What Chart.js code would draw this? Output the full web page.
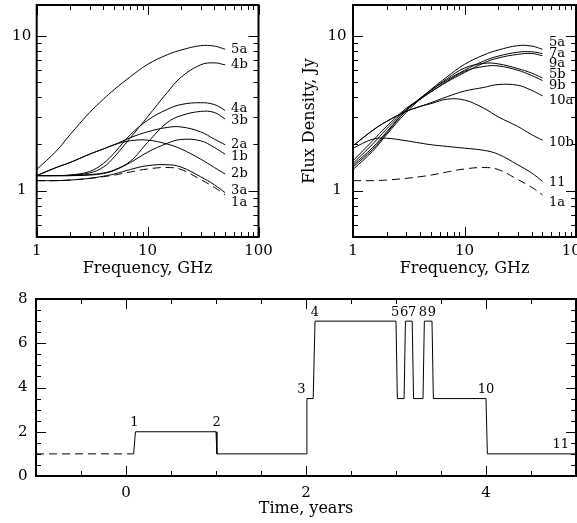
<!DOCTYPE html>
<html>
<head>
<meta charset="utf-8">
<script src="https://cdn.jsdelivr.net/npm/chart.js@4.4.1/dist/chart.umd.min.js"></script>
<style>
html, body { margin:0; padding:0; background:#fff; overflow:hidden; width:577px; height:523px; }
canvas { position:absolute; }
#specLeft { left:0; top:0; }
#specRight { left:290px; top:0; }
#timeline { left:0; top:290px; }
</style>
</head>
<body>
<canvas id="specLeft" width="290" height="290"></canvas>
<canvas id="specRight" width="320" height="290"></canvas>
<canvas id="timeline" width="577" height="233"></canvas>
<script>
// frequency grid, GHz
const freqs = [1, 1.5, 2, 3, 4, 5, 7, 10, 15, 20, 30, 40, 50];

// flux density, Jy (left panel)
const s5a = [1.37, 1.8, 2.3, 3.2, 3.9, 4.5, 5.45, 6.55, 7.55, 8.1, 8.65, 8.6, 8.2];
const s4b = [1.25, 1.25, 1.26, 1.3, 1.42, 1.65, 2.2, 3.0, 4.3, 5.4, 6.5, 6.7, 6.5];
const s4a = [1.25, 1.25, 1.26, 1.33, 1.5, 1.75, 2.3, 2.85, 3.35, 3.6, 3.7, 3.6, 3.3];
const s3b = [1.25, 1.25, 1.25, 1.27, 1.3, 1.36, 1.55, 2.05, 2.75, 3.05, 3.25, 3.2, 2.9];
const s2a = [1.25, 1.41, 1.52, 1.72, 1.86, 1.98, 2.2, 2.4, 2.56, 2.58, 2.4, 2.15, 1.98];
const s1b = [1.25, 1.25, 1.25, 1.26, 1.29, 1.35, 1.52, 1.77, 2.02, 2.14, 2.1, 1.9, 1.72];
const s2b = [1.25, 1.41, 1.52, 1.72, 1.86, 1.98, 2.1, 2.12, 2.0, 1.86, 1.6, 1.41, 1.28];
const s3a = [1.16, 1.16, 1.17, 1.2, 1.24, 1.28, 1.37, 1.45, 1.47, 1.42, 1.23, 1.09, 0.97];
const s1a = [1.16, 1.16, 1.17, 1.2, 1.23, 1.26, 1.32, 1.38, 1.41, 1.37, 1.18, 1.05, 0.94];

// right panel
const s7a = [1.42, 1.85, 2.35, 3.3, 3.95, 4.45, 5.2, 6.0, 6.9, 7.4, 7.85, 7.9, 7.7];
const s9a = [1.46, 1.9, 2.4, 3.3, 3.9, 4.35, 5.05, 5.8, 6.7, 7.2, 7.6, 7.7, 7.45];
const s5b = [1.5, 2.0, 2.5, 3.35, 3.95, 4.45, 5.3, 6.2, 6.65, 6.6, 6.15, 5.75, 5.35];
const s9b = [1.56, 2.1, 2.6, 3.4, 3.9, 4.35, 5.1, 5.9, 6.35, 6.4, 6.0, 5.55, 5.15];
const s10a = [1.95, 2.45, 2.8, 3.25, 3.5, 3.7, 4.05, 4.4, 4.65, 4.85, 4.8, 4.45, 4.1];
const s10b = [1.95, 2.45, 2.8, 3.25, 3.5, 3.65, 3.9, 3.85, 3.4, 3.0, 2.6, 2.3, 2.12];
const s11 = [1.88, 2.15, 2.18, 2.1, 2.03, 1.98, 1.93, 1.88, 1.82, 1.72, 1.47, 1.3, 1.15];

const freqTicks = [1,2,3,4,5,6,7,8,9,10,20,30,40,50,60,70,80,90,100];
const freqLabels = [1, 10, 100];
const fluxTicks = [0.5,0.6,0.7,0.8,0.9,1,2,3,4,5,6,7,8,9,10];
const fluxLabels = [1, 10];

// bottom panel: source state vs time
const preTime = [-1, 0.085];
const preLevel = [1, 1];
const stepTime = [0.085, 0.105, 1.0, 1.01, 2.0, 2.01, 2.08, 2.1, 3.0, 3.015, 3.09, 3.105, 3.18, 3.195, 3.3, 3.315, 3.4, 3.415, 4.0, 4.015, 5.0];
const stepLevel = [1, 2, 2, 1, 1, 3.5, 3.5, 7, 7, 3.5, 3.5, 7, 7, 3.5, 3.5, 7, 7, 3.5, 3.5, 1, 1];
const eventNames = ['1','2','3','4','5','6','7','8','9','10','11'];
const eventTime = [0.093, 1.006, 1.95, 2.1, 2.99, 3.09, 3.18, 3.3, 3.4, 4.0, 4.83];
const eventLevel = [2, 2, 3.5, 7, 7, 7, 7, 7, 7, 3.5, 1];
const timeTicks = [-1,-0.5,0,0.5,1,1.5,2,2.5,3,3.5,4,4.5,5];
const timeLabels = [0, 2, 4];
const levelTicks = [0,0.5,1,1.5,2,2.5,3,3.5,4,4.5,5,5.5,6,6.5,7,7.5,8];
const levelLabels = [0, 2, 4, 6, 8];

const FONT = '"DejaVu Serif", "Liberation Serif", serif';
Chart.defaults.font.family = FONT;
Chart.defaults.color = '#000';

const pts = (xs, ys) => xs.map((x, i) => ({x, y: ys[i]}));

function curve(label, vals, dashed){
  return {
    label, data: pts(freqs, vals),
    borderColor:'#000', borderWidth:1, pointRadius:0,
    tension:0.4, borderDash: dashed ? [8,5] : []
  };
}

// fixed axis box size; the chart area is set by layout padding alone
function fixBox(size){
  return s => {
    if (s.isHorizontal()) s.height = size; else s.width = size;
    s.paddingTop = s.paddingBottom = s.paddingLeft = s.paddingRight = 0;
  };
}

// inner ticks on all four sides and a heavy box, PGPLOT style
function makeFrame(t){
  return {
    id:'frame',
    afterDraw(chart){
      const {ctx, chartArea:a, scales:{x, y}} = chart;
      ctx.save();
      ctx.strokeStyle = '#000';
      ctx.lineWidth = 1;
      ctx.beginPath();
      const tx = (v, len) => {
        const p = Math.round(x.getPixelForValue(v)) + 0.5;
        ctx.moveTo(p, a.bottom); ctx.lineTo(p, a.bottom - len);
        ctx.moveTo(p, a.top); ctx.lineTo(p, a.top + len);
      };
      const ty = (v, len) => {
        const p = Math.round(y.getPixelForValue(v)) + 0.5;
        ctx.moveTo(a.left, p); ctx.lineTo(a.left + len, p);
        ctx.moveTo(a.right, p); ctx.lineTo(a.right - len, p);
      };
      t.x.forEach(v => tx(v, t.xMajor.includes(v) ? 10 : 5));
      t.y.forEach(v => ty(v, t.yMajor.includes(v) ? 10 : 5));
      ctx.stroke();
      ctx.lineWidth = 2;
      ctx.strokeRect(a.left, a.top, a.right - a.left, a.bottom - a.top);
      ctx.restore();
    }
  };
}

function makeEndLabels(dx, nudge){
  return {
    id:'endLabels',
    afterDatasetsDraw(chart){
      const {ctx} = chart;
      ctx.save();
      ctx.font = '13px ' + FONT;
      ctx.fillStyle = '#000';
      ctx.textBaseline = 'middle';
      chart.data.datasets.forEach((ds, i) => {
        const el = chart.getDatasetMeta(i).data;
        const last = el[el.length - 1];
        ctx.fillText(ds.label, last.x + dx, last.y + (nudge[ds.label] || 0));
      });
      ctx.restore();
    }
  };
}

function freqAxis(){
  return {
    type:'logarithmic', min:1, max:100,
    grid:{display:false, drawTicks:false}, border:{display:false},
    afterBuildTicks: s => { s.ticks = freqTicks.map(v => ({value:v})); },
    ticks:{autoSkip:false, maxRotation:0, padding:5, font:{size:15},
      callback: v => freqLabels.includes(v) ? String(v) : ''},
    title:{display:true, text:'Frequency, GHz', font:{size:16}, padding:{top:0, bottom:11.4}},
    afterFit: fixBox(53)
  };
}

function fluxAxis(width, pad, title){
  return {
    type:'logarithmic', min:0.5012, max:15.85,
    grid:{display:false, drawTicks:false}, border:{display:false},
    afterBuildTicks: s => { s.ticks = fluxTicks.map(v => ({value:v})); },
    ticks:{autoSkip:false, padding:pad, crossAlign:'center', font:{size:15},
      callback: v => fluxLabels.includes(v) ? String(v) : ''},
    title: title ? {display:true, text:title, font:{size:16}, padding:{top:10.4, bottom:0}} : {display:false},
    afterFit: fixBox(width)
  };
}

const freqFrame = {x:freqTicks, xMajor:freqLabels, y:fluxTicks, yMajor:fluxLabels};

new Chart(document.getElementById('specLeft'), {
  type:'line',
  data:{datasets:[
    curve('5a', s5a), curve('4b', s4b), curve('4a', s4a), curve('3b', s3b),
    curve('2a', s2a), curve('1b', s1b), curve('2b', s2b), curve('3a', s3a),
    curve('1a', s1a, true)
  ]},
  options:{
    responsive:false, animation:false,
    layout:{padding:{top:5, right:31.5, left:0, bottom:0}},
    plugins:{legend:{display:false}, tooltip:{enabled:false}},
    scales:{x:freqAxis(), y:fluxAxis(36.7, 5.5)}
  },
  plugins:[makeFrame(freqFrame),
    makeEndLabels(6, {'4a':-1.5, '3b':2, '1b':2.5, '3a':-2, '1a':8})]
});

new Chart(document.getElementById('specRight'), {
  type:'line',
  data:{datasets:[
    curve('5a', s5a), curve('7a', s7a), curve('9a', s9a), curve('5b', s5b),
    curve('9b', s9b), curve('10a', s10a), curve('10b', s10b), curve('11', s11),
    curve('1a', s1a, true)
  ]},
  options:{
    responsive:false, animation:false,
    layout:{padding:{top:5, right:34, left:0, bottom:0}},
    plugins:{legend:{display:false}, tooltip:{enabled:false}},
    scales:{x:freqAxis(), y:fluxAxis(63, 6.5, 'Flux Density, Jy')}
  },
  plugins:[makeFrame(freqFrame),
    makeEndLabels(6.6, {'5a':-7, '9a':8, '5b':-3, '9b':5, '10a':5, '10b':2.5, '11':1.5, '1a':8})]
});

const eventLabelPlugin = {
  id:'events',
  afterDatasetsDraw(chart){
    const {ctx, scales:{x, y}} = chart;
    ctx.save();
    ctx.font = '13px ' + FONT;
    ctx.fillStyle = '#000';
    ctx.textAlign = 'center';
    ctx.textBaseline = 'middle';
    eventNames.forEach((n, i) => {
      ctx.fillText(n, x.getPixelForValue(eventTime[i]), y.getPixelForValue(eventLevel[i]) - 9);
    });
    ctx.restore();
  }
};

new Chart(document.getElementById('timeline'), {
  type:'line',
  data:{datasets:[
    {data:pts(preTime, preLevel), borderColor:'#000', borderWidth:1, pointRadius:0, borderDash:[8,5]},
    {data:pts(stepTime, stepLevel), borderColor:'#000', borderWidth:1, pointRadius:0, borderJoinStyle:'bevel'}
  ]},
  options:{
    responsive:false, animation:false,
    layout:{padding:{top:9, right:1, left:0, bottom:0}},
    plugins:{legend:{display:false}, tooltip:{enabled:false}},
    scales:{
      x:{
        type:'linear', min:-1, max:5,
        grid:{display:false, drawTicks:false}, border:{display:false},
        afterBuildTicks: s => { s.ticks = timeTicks.map(v => ({value:v})); },
        ticks:{autoSkip:false, maxRotation:0, padding:8, font:{size:15},
          callback: v => timeLabels.includes(v) ? String(v) : ''},
        title:{display:true, text:'Time, years', font:{size:16}, padding:{top:0, bottom:4.4}},
        afterFit: fixBox(47)
      },
      y:{
        type:'linear', min:0, max:8,
        grid:{display:false, drawTicks:false}, border:{display:false},
        afterBuildTicks: s => { s.ticks = levelTicks.map(v => ({value:v})); },
        ticks:{autoSkip:false, padding:8.5, crossAlign:'center', font:{size:15},
          callback: v => levelLabels.includes(v) ? String(v) : ''},
        afterFit: fixBox(36)
      }
    }
  },
  plugins:[makeFrame({x:timeTicks, xMajor:timeLabels, y:levelTicks, yMajor:[2,4,6]}), eventLabelPlugin]
});
</script>
</body>
</html>
